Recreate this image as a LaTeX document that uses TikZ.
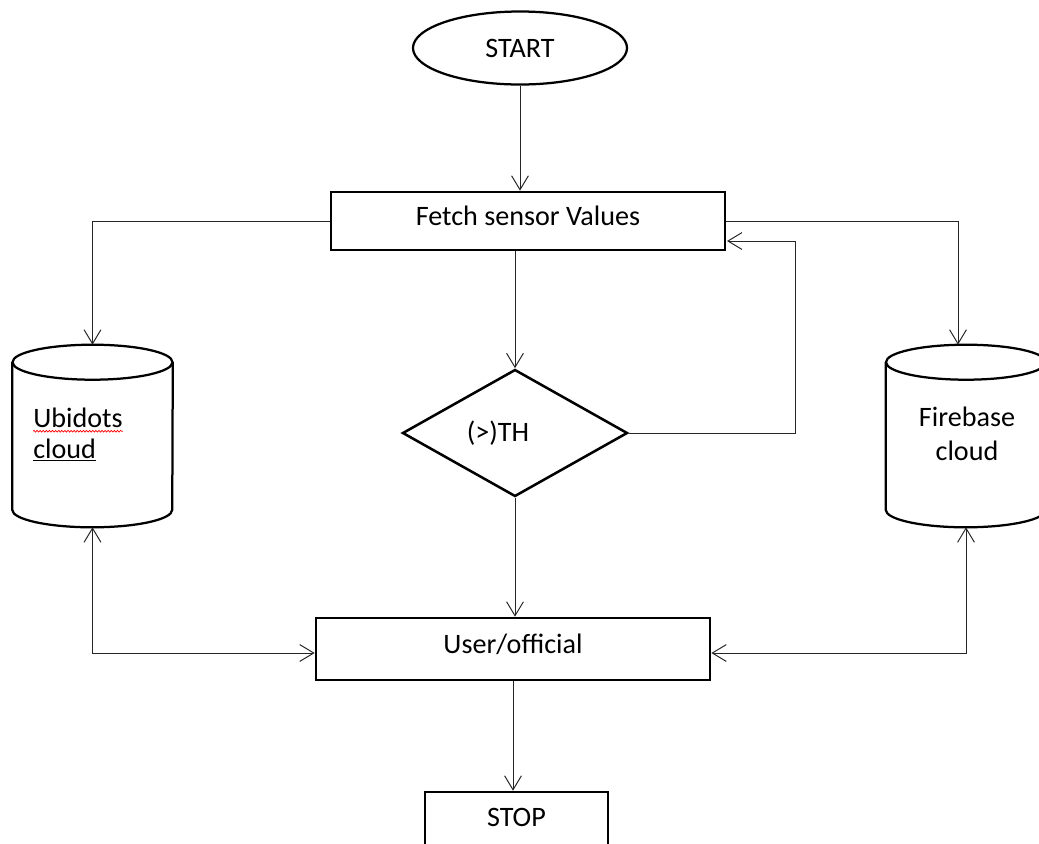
\documentclass[tikz,border=0pt]{standalone}
\usepackage{fontspec}
\setmainfont{Carlito}
\usetikzlibrary{shapes.geometric, arrows.meta, decorations.pathmorphing}

% outline of a cylinder drawn round a named node
\newcommand{\drumoutline}[1]{%
  \draw [line width = 1.6pt] ([yshift = -0.4375cm]#1.north) ellipse (2cm and 0.4375cm);
  \draw [line width = 1.6pt] ([yshift = -0.4375cm]#1.north west) -- ([yshift = 0.4375cm]#1.south west)
        arc (180:360:2cm and 0.4375cm) -- ([yshift = -0.4375cm]#1.north east);}

\begin{document}
\begin{tikzpicture}[x = 0.025cm, y = -0.025cm,
                        font = \fontsize{20}{24}\selectfont,
                        box/.style = {rectangle, draw, line width = 1.8pt, inner sep = 0pt},
                        terminal/.style = {ellipse, draw, line width = 1.6pt, inner sep = 0pt},
                        check/.style = {diamond, draw, line width = 1.8pt, inner sep = 0pt},
                        store/.style = {rectangle, inner sep = 0pt, minimum width = 4cm, minimum height = 4.55cm},
                        link/.style = {line width = 0.7pt, black!85, -{Straight Barb[length = 3.5mm, width = 4.2mm]}},
                        both/.style = {line width = 0.7pt, black!85, {Straight Barb[length = 3.5mm, width = 4.2mm]}-{Straight Barb[length = 3.5mm, width = 4.2mm]}}]
      \useasboundingbox (0, 0) rectangle (1039, 843);

      \node [terminal, minimum width = 5.35cm, minimum height = 1.825cm] (start) at (520, 48){START};
      \node [box, minimum width = 9.85cm, minimum height = 1.45cm] (fetch) at (528, 221){\raisebox{0.28cm}{Fetch sensor Values}};
      \node [check, minimum width = 5.625cm, minimum height = 3.175cm] (th) at (515, 433){};
      \node (thtext) at (498, 433){(>)TH};
      \node [box, minimum width = 9.85cm, minimum height = 1.55cm] (user) at (513, 649){\raisebox{0.28cm}{User/official}};
      \node [box, minimum width = 4.575cm, minimum height = 1.5cm] (stop) at (516.5, 822){\raisebox{0.24cm}{STOP}};

      \node [store] (ubidots) at (92.5, 436){};
      \node [store] (firebase) at (966, 436){};
      \drumoutline{ubidots}
      \drumoutline{firebase}

      \node [anchor = base west, inner sep = 0pt] (ubiname) at (33, 427){Ubidots};
      \node [anchor = base west, inner sep = 0pt] (ubicloud) at (33, 458){\underline{cloud}};
      \draw [red, line width = 0.5pt, decorate, decoration = {snake, amplitude = 0.6pt, segment length = 2.2pt}]
            ([yshift = -3pt]ubiname.base west) -- ([yshift = -3pt]ubiname.base east);
      \node [align = center] (firetext) at (967, 434){Firebase\\cloud};

      \coordinate (looptop) at (795, 241);
      \coordinate (loopin) at (727, 241);

      \draw [link] (start) -- (start |- fetch.north);
      \draw [link] (fetch.west) -| (ubidots.north);
      \draw [link] (fetch.east) -| ([xshift = -0.2cm]firebase.north);
      \draw [link] (fetch.south -| th.north) -- (th.north);
      \draw [line width = 0.7pt, black!85] (th.east) -| (looptop);
      \draw [link] (looptop) -- (loopin);
      \draw [link] (th.south) -- (th.south |- user.north);
      \draw [link] (user.south) -- (user.south |- stop.north);
      \draw [both] (ubidots.south) |- ([yshift = -0.1cm]user.west);
      \draw [both] (firebase.south) |- ([yshift = -0.1cm]user.east);

      \end{tikzpicture}
\end{document}
